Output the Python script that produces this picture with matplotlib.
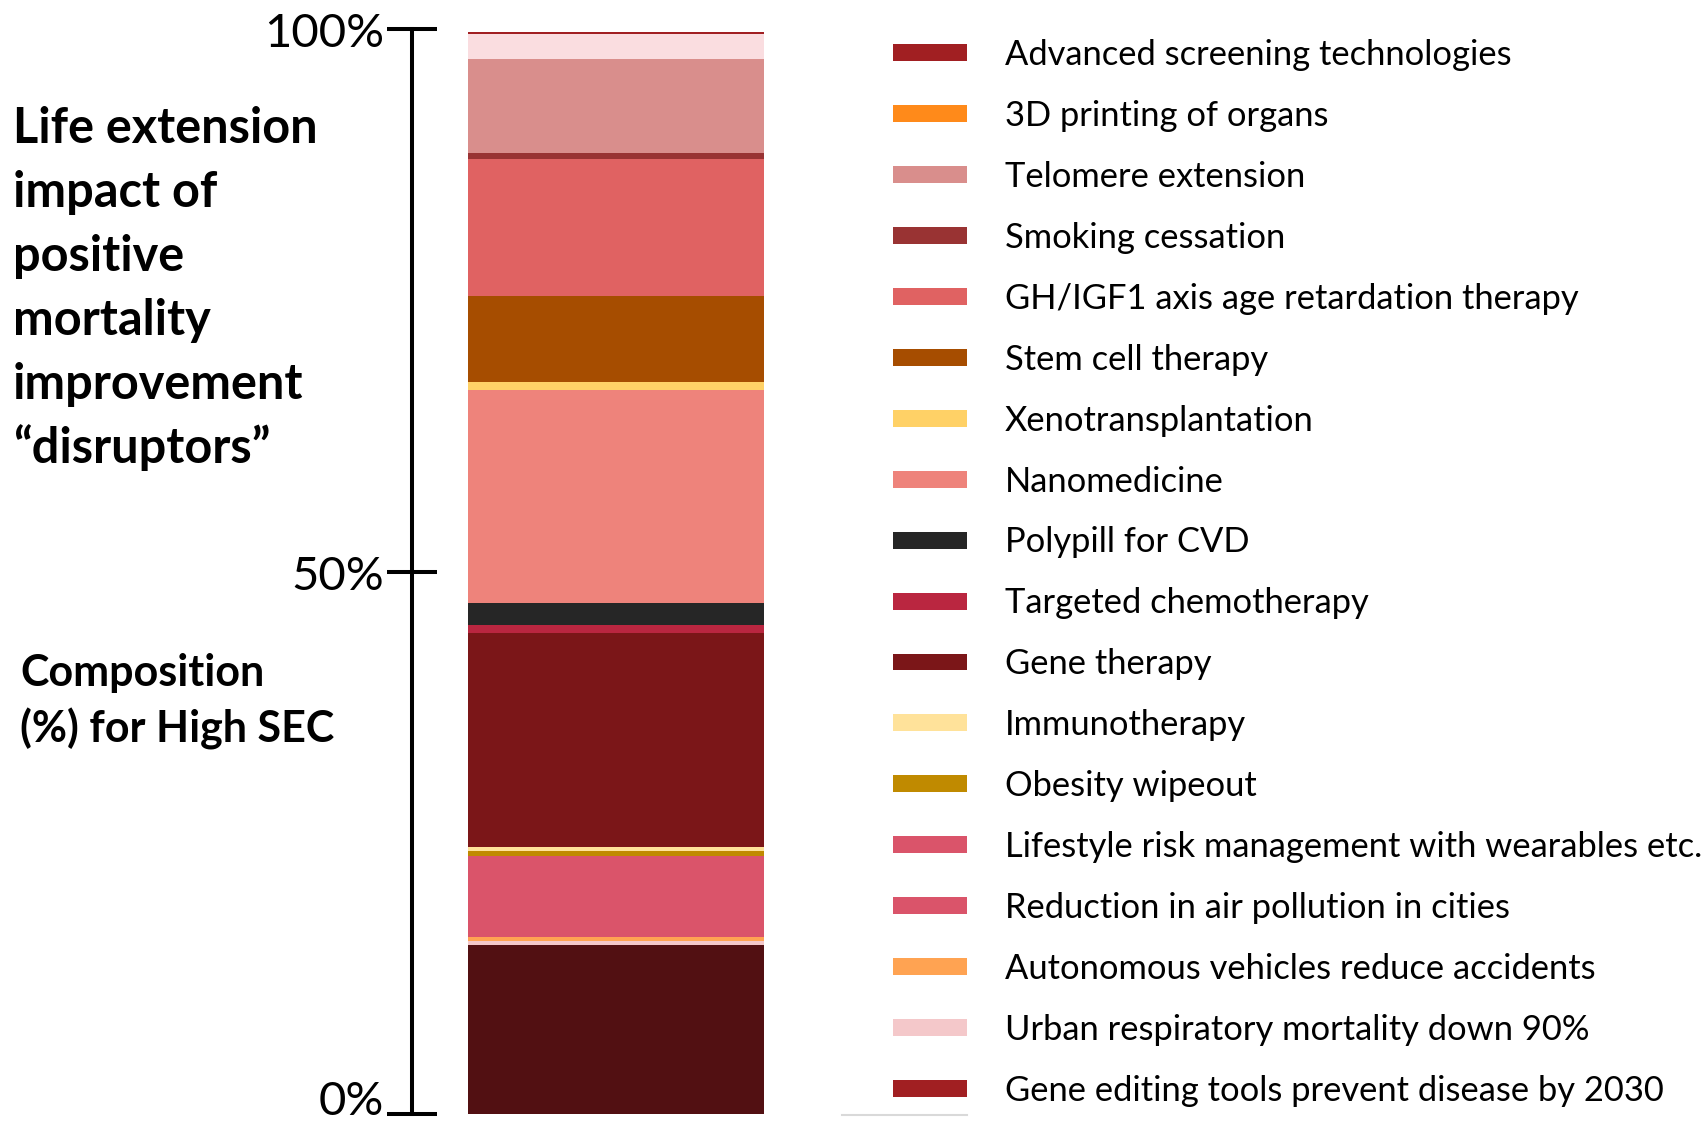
import matplotlib
matplotlib.use("Agg")
import matplotlib.pyplot as plt
import matplotlib.transforms as mtransforms
from matplotlib.patches import Patch
from matplotlib.lines import Line2D

plt.rcParams['font.family'] = ['Lato', 'DejaVu Sans']

# ---------------- data ----------------
legend_labels = [
    "Advanced screening technologies",
    "3D printing of organs",
    "Telomere extension",
    "Smoking cessation",
    "GH/IGF1 axis age retardation therapy",
    "Stem cell therapy",
    "Xenotransplantation",
    "Nanomedicine",
    "Polypill for CVD",
    "Targeted chemotherapy",
    "Gene therapy",
    "Immunotherapy",
    "Obesity wipeout",
    "Lifestyle risk management with wearables etc.",
    "Reduction in air pollution in cities",
    "Autonomous vehicles reduce accidents",
    "Urban respiratory mortality down 90%",
    "Gene editing tools prevent disease by 2030",
]
legend_colors = [
    "#A11F22", "#FF8A1A", "#D98E8C", "#993333", "#E06262", "#A64D00",
    "#FFD166", "#EE837B", "#262626", "#BA2640", "#7B1618", "#FFE29A",
    "#C08A00", "#DA546A", "#DA546A", "#FFA352", "#F4C8CA", "#A11F22",
]

# stacked segments, bottom to top (% of total)
stack_labels = [
    "Gene editing tools prevent disease by 2030",
    "Urban respiratory mortality down 90%",
    "Autonomous vehicles reduce accidents",
    "Reduction in air pollution in cities",
    "Lifestyle risk management with wearables etc.",
    "Obesity wipeout",
    "Immunotherapy",
    "Gene therapy",
    "Targeted chemotherapy",
    "Polypill for CVD",
    "Nanomedicine",
    "Xenotransplantation",
    "Stem cell therapy",
    "GH/IGF1 axis age retardation therapy",
    "Smoking cessation",
    "Telomere extension",
    "3D printing of organs",
    "Other",
    "Advanced screening technologies",
]
stack_values = [15.6, 0.3, 0.45, 3.7, 3.7, 0.45, 0.45, 19.7, 0.75, 2.0,
                19.6, 0.8, 7.9, 12.6, 0.55, 8.7, 0.0, 2.3, 0.2]
stack_colors = [
    "#521012", "#F4C8CA", "#FFA352", "#DA546A", "#DA546A", "#C08A00",
    "#FFE29A", "#7B1618", "#BA2640", "#262626", "#EE837B", "#FFD166",
    "#A64D00", "#E06262", "#993333", "#D98E8C", "#FF8A1A", "#FADDE0",
    "#A11F22",
]

tick_values = [0, 50, 100]
tick_labels = ["0%", "50%", "100%"]

title_lines = ["Life extension", "impact of", "positive", "mortality",
               "improvement", "\u201cdisruptors\u201d"]
sub_lines = ["Composition", "(%) for High SEC"]

# ---------------- figure ----------------
W, H = 1703, 1122
fig = plt.figure(figsize=(W / 100, H / 100), dpi=100)

ax_l, ax_r, ax_b, ax_t = 412, 800, 1114, 29
ax = fig.add_axes([ax_l / W, (H - ax_b) / H, (ax_r - ax_l) / W, (ax_b - ax_t) / H])
ax.set_ylim(0, 100)
ax.set_xlim(0, 1)

bar_left = (468 - ax_l) / (ax_r - ax_l)
bar_w = (764 - 468) / (ax_r - ax_l)
bottom = 0.0
for v, c in zip(stack_values, stack_colors):
    ax.bar(bar_left, v, width=bar_w, bottom=bottom, color=c, align='edge',
           linewidth=0)
    bottom += v

for s in ["top", "right", "bottom"]:
    ax.spines[s].set_visible(False)
ax.spines["left"].set_linewidth(2.9)
ax.spines["left"].set_color("black")
ax.set_xticks([])
ax.set_yticks(tick_values, tick_labels)
ax.tick_params(axis='y', direction='inout', length=36, width=2.9,
               labelsize=34, pad=2, colors='black')
label_shift_px = [12, -6, -5]   # vertical nudge of each tick label
for lbl, dy in zip(ax.get_yticklabels(), label_shift_px):
    lbl.set_verticalalignment('center')
    lbl.set_transform(lbl.get_transform() +
                      mtransforms.ScaledTranslation(0, dy / 100,
                                                    fig.dpi_scale_trans))

# legend
F = 24.8
fpx = F * 100 / 72
handles = [Patch(facecolor=c, edgecolor='none', label=l)
           for l, c in zip(legend_labels, legend_colors)]
fig.legend(handles=handles, loc='upper left',
           bbox_to_anchor=(893 / W, 1 - 39 / H), frameon=False, fontsize=F,
           handlelength=74 / fpx, handleheight=13 / fpx,
           handletextpad=(1005 - 967) / fpx, labelspacing=0.84,
           borderpad=0, borderaxespad=0)

fig.add_artist(Line2D([842 / W, 967 / W], [1 - 1115 / H, 1 - 1115 / H],
                      color="#D9D9D9", linewidth=1.5))

# left texts
for i, t in enumerate(title_lines):
    fig.text(13 / W, 1 - (143 + 64 * i) / H, t, fontsize=35,
             fontweight='bold', ha='left', va='baseline')
for i, t in enumerate(sub_lines):
    fig.text(20 / W, 1 - (686 + 57 * i) / H, t, fontsize=31,
             fontweight='bold', ha='left', va='baseline')

fig.savefig("out.png", dpi=100)
